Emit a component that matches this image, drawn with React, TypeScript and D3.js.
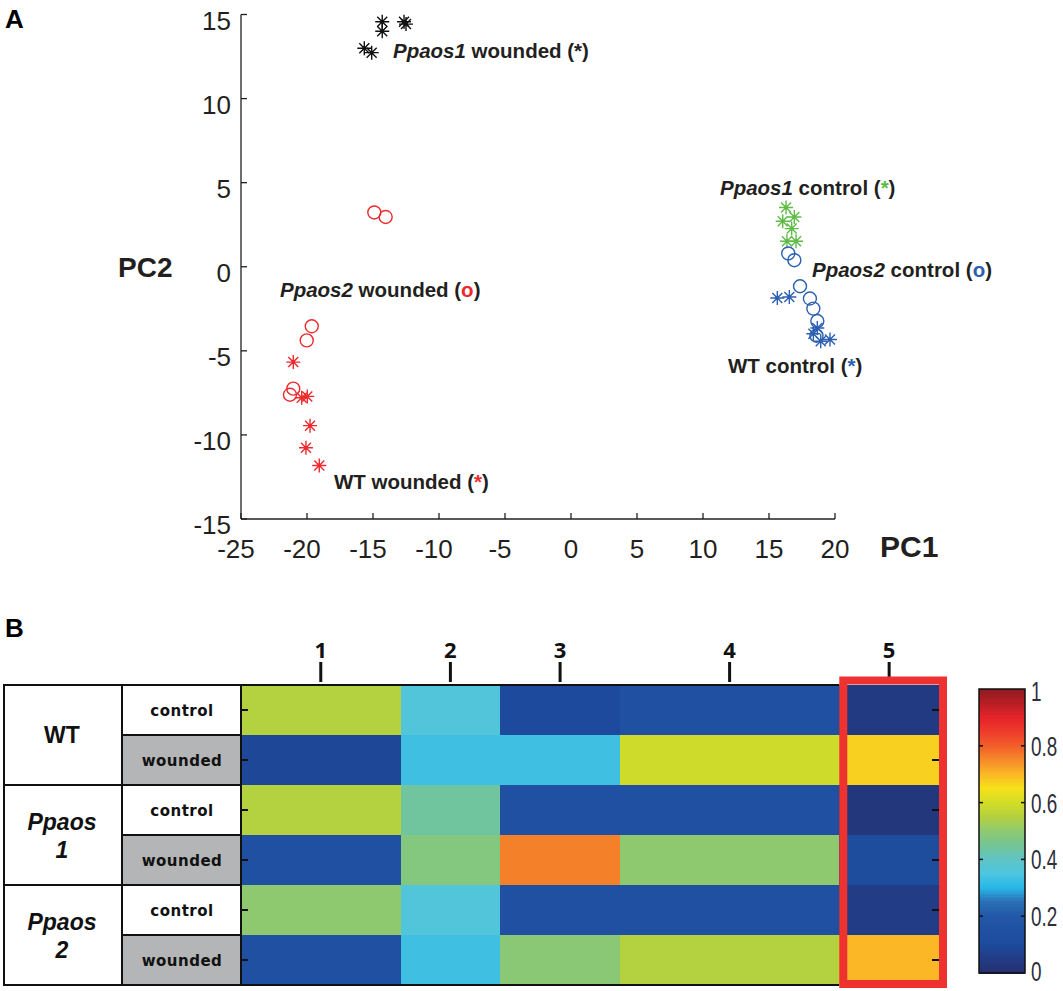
import React from 'react';
import * as d3 from 'd3';

// ---- panel A : PCA scores ----
const ppaos1Wounded: [number, number][] = [
  [-14.3, 14.57], [-14.3, 14.0], [-12.65, 14.57], [-12.5, 14.43], [-15.66, 12.99], [-15.1, 12.73],
];
const ppaos2Wounded: [number, number][] = [
  [-14.9, 3.23], [-14.04, 2.96], [-19.64, -3.54], [-20.02, -4.38], [-21.04, -7.25], [-21.29, -7.61],
];
const wtWounded: [number, number][] = [
  [-21.04, -5.67], [-20.4, -7.79], [-19.98, -7.71], [-19.77, -9.45], [-20.08, -10.76], [-19.07, -11.82],
];
const ppaos1Control: [number, number][] = [
  [16.29, 3.52], [16.92, 2.96], [16.04, 2.71], [16.72, 2.27], [16.36, 1.52], [17.05, 1.52],
];
const ppaos2Control: [number, number][] = [
  [16.46, 0.79], [16.92, 0.39], [17.35, -1.16], [18.1, -1.89], [18.36, -2.49], [18.66, -3.23], [18.6, -4.1],
];
const wtControl: [number, number][] = [
  [15.63, -1.86], [16.54, -1.8], [18.66, -3.64], [18.36, -3.98], [18.92, -4.43], [19.62, -4.33],
];
const xTicks = [-25, -20, -15, -10, -5, 0, 5, 10, 15, 20];
const yTicks = [-15, -10, -5, 0, 5, 10, 15];

// ---- panel B : cluster heatmap ----
const genotypes = ['WT', 'Ppaos 1', 'Ppaos 2'];
const conditions = ['control', 'wounded'];
const clusters = ['1', '2', '3', '4', '5'];
const clusterSizes = [16, 10, 12, 22, 10];
const heatValues = [
  [0.55, 0.36, 0.1, 0.14, 0.04], // WT control
  [0.09, 0.33, 0.33, 0.59, 0.67], // WT wounded
  [0.55, 0.44, 0.14, 0.14, 0.03], // Ppaos1 control
  [0.14, 0.48, 0.76, 0.5, 0.12], // Ppaos1 wounded
  [0.5, 0.36, 0.14, 0.14, 0.05], // Ppaos2 control
  [0.14, 0.33, 0.49, 0.55, 0.7], // Ppaos2 wounded
];
const colorbarTicks = [0, 0.2, 0.4, 0.6, 0.8, 1];

const cmapStops = [0, 0.1, 0.2, 0.25, 0.3, 0.35, 0.4, 0.45, 0.5, 0.55, 0.6, 0.65, 0.7, 0.75, 0.8, 0.85, 0.9, 1];
const cmapColors = [
  '#262f70', '#1d4a9c', '#2358a8', '#2a70b6', '#28b8e8', '#4ec6e0', '#60c3c4', '#74c494', '#8fc96f',
  '#b4d23f', '#d4dd26', '#f6e01b', '#fbb726', '#f6892a', '#f15d29', '#ee3a2c', '#e4222a', '#8a1b1f',
];

const sans = '"Liberation Sans", Arial, sans-serif';

const x = d3.scaleLinear().domain([-25, 20]).range([241, 835]);
const y = d3.scaleLinear().domain([-15, 15]).range([519, 14.5]);

const asterisk = 'M-7,0H7M0,-7V7M-5,-5L5,5M-5,5L5,-5';

const Stars = ({ pts, color }: { pts: [number, number][]; color: string }) => (
  <g stroke={color} strokeWidth={1.4}>
    {pts.map((p, i) => (
      <g key={i} transform={`translate(${x(p[0])},${y(p[1])})`}>
        <path d={asterisk} fill="none" />
        <circle r={1.8} fill={color} stroke="none" />
      </g>
    ))}
  </g>
);

const Rings = ({ pts, color }: { pts: [number, number][]; color: string }) => (
  <g stroke={color} strokeWidth={1.4} fill="none">
    {pts.map((p, i) => (
      <circle key={i} cx={x(p[0])} cy={y(p[1])} r={6.5} />
    ))}
  </g>
);

const Label = ({ x0, y0, italic, rest, sym, color }: any) => (
  <text x={x0} y={y0} fontFamily={sans} fontWeight="bold" fontSize={20.5} fill="#231f20">
    {italic && <tspan fontStyle="italic">{italic}</tspan>}
    <tspan>{rest} (</tspan>
    <tspan fill={color}>{sym}</tspan>
    <tspan>)</tspan>
  </text>
);

export default function App() {
  const cmap = d3.scaleLinear<string>().domain(cmapStops).range(cmapColors).interpolate(d3.interpolateRgb);

  const rowKeys = d3.range(genotypes.length * conditions.length).map(String);
  const yHeat = d3.scaleBand().domain(rowKeys).range([685, 985]);
  const xHeat = d3.scaleLinear().domain([0, d3.sum(clusterSizes)]).range([241, 939]);
  const colStart = clusterSizes.map((_, i) => d3.sum(clusterSizes.slice(0, i)));
  const yCb = d3.scaleLinear().domain([0, 1]).range([973, 689]);
  const cbSteps = d3.range(0, 1, 0.005);

  const lastStart = colStart[4];
  const fmtTick = (t: number) => (t < 0 ? `-${-t}` : `${t}`);

  return (
    <svg width={1063} height={991} style={{ position: 'absolute', left: 0, top: 0, background: '#fff' }}>
      {/* Panel A */}
      <text x={5} y={28} fontFamily={sans} fontWeight="bold" fontSize={26}>A</text>
      <g fontFamily={sans} fontSize={26} fill="#231f20">
        <line x1={x(-25)} x2={x(20)} y1={y(-15)} y2={y(-15)} stroke="#231f20" strokeWidth={1.3} />
        <line x1={x(-25)} x2={x(-25)} y1={y(-15)} y2={y(15)} stroke="#231f20" strokeWidth={1.3} />
        {xTicks.map(t => (
          <g key={t}>
            <line x1={x(t)} x2={x(t)} y1={y(-15)} y2={y(-15) - 6} stroke="#231f20" strokeWidth={1.3} />
            <text x={x(t) - (t < 0 ? 5 : 0)} y={558} textAnchor="middle">{fmtTick(t)}</text>
          </g>
        ))}
        {yTicks.map(t => (
          <g key={t}>
            <line x1={x(-25)} x2={x(-25) + 6} y1={y(t)} y2={y(t)} stroke="#231f20" strokeWidth={1.3} />
            <text x={231} y={y(t) + 15} textAnchor="end">{fmtTick(t)}</text>
          </g>
        ))}
      </g>
      <text x={118} y={277} fontFamily={sans} fontWeight="bold" fontSize={28} fill="#231f20">PC2</text>
      <text x={880} y={557} fontFamily={sans} fontWeight="bold" fontSize={30} fill="#231f20">PC1</text>

      <Stars pts={ppaos1Wounded} color="#111" />
      <Rings pts={ppaos2Wounded} color="#ec2a2e" />
      <Stars pts={wtWounded} color="#ec2a2e" />
      <Stars pts={ppaos1Control} color="#5dbb46" />
      <Rings pts={ppaos2Control} color="#2b5fb0" />
      <Stars pts={wtControl} color="#2b5fb0" />

      <Label x0={393} y0={58} italic="Ppaos1" rest=" wounded" sym="*" color="#231f20" />
      <Label x0={280} y0={297} italic="Ppaos2" rest=" wounded" sym="o" color="#ec2a2e" />
      <Label x0={334} y0={489} italic="" rest="WT wounded" sym="*" color="#ec2a2e" />
      <Label x0={720} y0={195} italic="Ppaos1" rest=" control" sym="*" color="#5dbb46" />
      <Label x0={812} y0={277} italic="Ppaos2" rest=" control" sym="o" color="#2b5fb0" />
      <Label x0={728} y0={373} italic="" rest="WT control" sym="*" color="#2b5fb0" />

      {/* Panel B */}
      <text x={5} y={637} fontFamily={sans} fontWeight="bold" fontSize={26}>B</text>

      {/* row header table */}
      <g stroke="#111" strokeWidth={2}>
        {genotypes.map((g, gi) => (
          <rect key={g} x={4} y={yHeat(String(gi * 2))!} width={118} height={yHeat.bandwidth() * 2} fill="#fff" />
        ))}
        {rowKeys.map((k, i) => (
          <rect key={k} x={122} y={yHeat(k)!} width={119} height={yHeat.bandwidth()}
            fill={i % 2 === 0 ? '#fff' : '#b3b5b6'} />
        ))}
      </g>
      <g fontFamily={sans} fontWeight="bold" fontSize={23} fill="#111" textAnchor="middle">
        {genotypes.map((g, gi) => {
          const cy = yHeat(String(gi * 2))! + yHeat.bandwidth();
          if (g === 'WT') return <text key={g} x={62} y={cy + 8}>WT</text>;
          const [a, b] = g.split(' ');
          return (
            <text key={g} x={62} fontStyle="italic">
              <tspan x={62} y={cy - 5}>{a}</tspan>
              <tspan x={62} y={cy + 23}>{b}</tspan>
            </text>
          );
        })}
      </g>
      <g fontFamily='"DejaVu Sans", sans-serif' fontWeight="bold" fontSize={15} fill="#111"
        textAnchor="middle" letterSpacing={0.5}>
        {rowKeys.map((k, i) => (
          <text key={k} x={182} y={yHeat(k)! + yHeat.bandwidth() / 2 + 6}>{conditions[i % 2]}</text>
        ))}
      </g>

      {/* heat cells */}
      <g shapeRendering="crispEdges">
        {heatValues.map((row, ri) =>
          row.map((v, ci) => (
            <rect key={`${ri}-${ci}`} x={xHeat(colStart[ci])} y={yHeat(String(ri))!}
              width={xHeat(colStart[ci] + clusterSizes[ci]) - xHeat(colStart[ci])}
              height={yHeat.bandwidth()} fill={cmap(v)} />
          ))
        )}
      </g>
      <g stroke="#111" strokeWidth={2} fill="none">
        <path d={`M${xHeat(lastStart)},685H241V985H${xHeat(lastStart)}`} />
        {rowKeys.map(k => (
          <g key={k}>
            <line x1={241} x2={248} y1={yHeat(k)! + yHeat.bandwidth() / 2} y2={yHeat(k)! + yHeat.bandwidth() / 2} />
            <line x1={932} x2={939} y1={yHeat(k)! + yHeat.bandwidth() / 2} y2={yHeat(k)! + yHeat.bandwidth() / 2} />
          </g>
        ))}
      </g>
      {clusters.map((c, ci) => {
        const cx = xHeat(colStart[ci] + clusterSizes[ci] / 2);
        return (
          <g key={c}>
            <line x1={cx} x2={cx} y1={662} y2={682} stroke="#111" strokeWidth={3} />
            <text x={cx} y={658} textAnchor="middle" fontFamily='"Open Sans", sans-serif'
              fontWeight="bold" fontSize={22} fill="#111">{c}</text>
          </g>
        );
      })}
      <rect x={xHeat(lastStart) + 4} y={680.5} width={939 - xHeat(lastStart)} height={303.5}
        fill="none" stroke="#ee3230" strokeWidth={8} />

      {/* colorbar */}
      <g shapeRendering="crispEdges">
        {cbSteps.map(v => (
          <rect key={v} x={979} y={yCb(v + 0.005)} width={46} height={yCb(v) - yCb(v + 0.005) + 0.5} fill={cmap(v)} />
        ))}
      </g>
      <rect x={979} y={689} width={46} height={284} fill="none" stroke="#111" strokeWidth={1.5} />
      <g fontFamily={sans} fontSize={27} fill="#2d2f3a">
        {colorbarTicks.map(t => (
          <g key={t}>
            {t > 0 && t < 1 && (
              <>
                <line x1={979} x2={983} y1={yCb(t)} y2={yCb(t)} stroke="#111" strokeWidth={1.5} />
                <line x1={1021} x2={1025} y1={yCb(t)} y2={yCb(t)} stroke="#111" strokeWidth={1.5} />
              </>
            )}
            <text transform={`translate(1031,${yCb(t) + 10 + (t === 1 ? 2 : 0) - (t === 0 ? 2 : 0)}) scale(0.7,1)`}>
              {t === 0 || t === 1 ? t : d3.format('.1f')(t)}
            </text>
          </g>
        ))}
      </g>
    </svg>
  );
}
